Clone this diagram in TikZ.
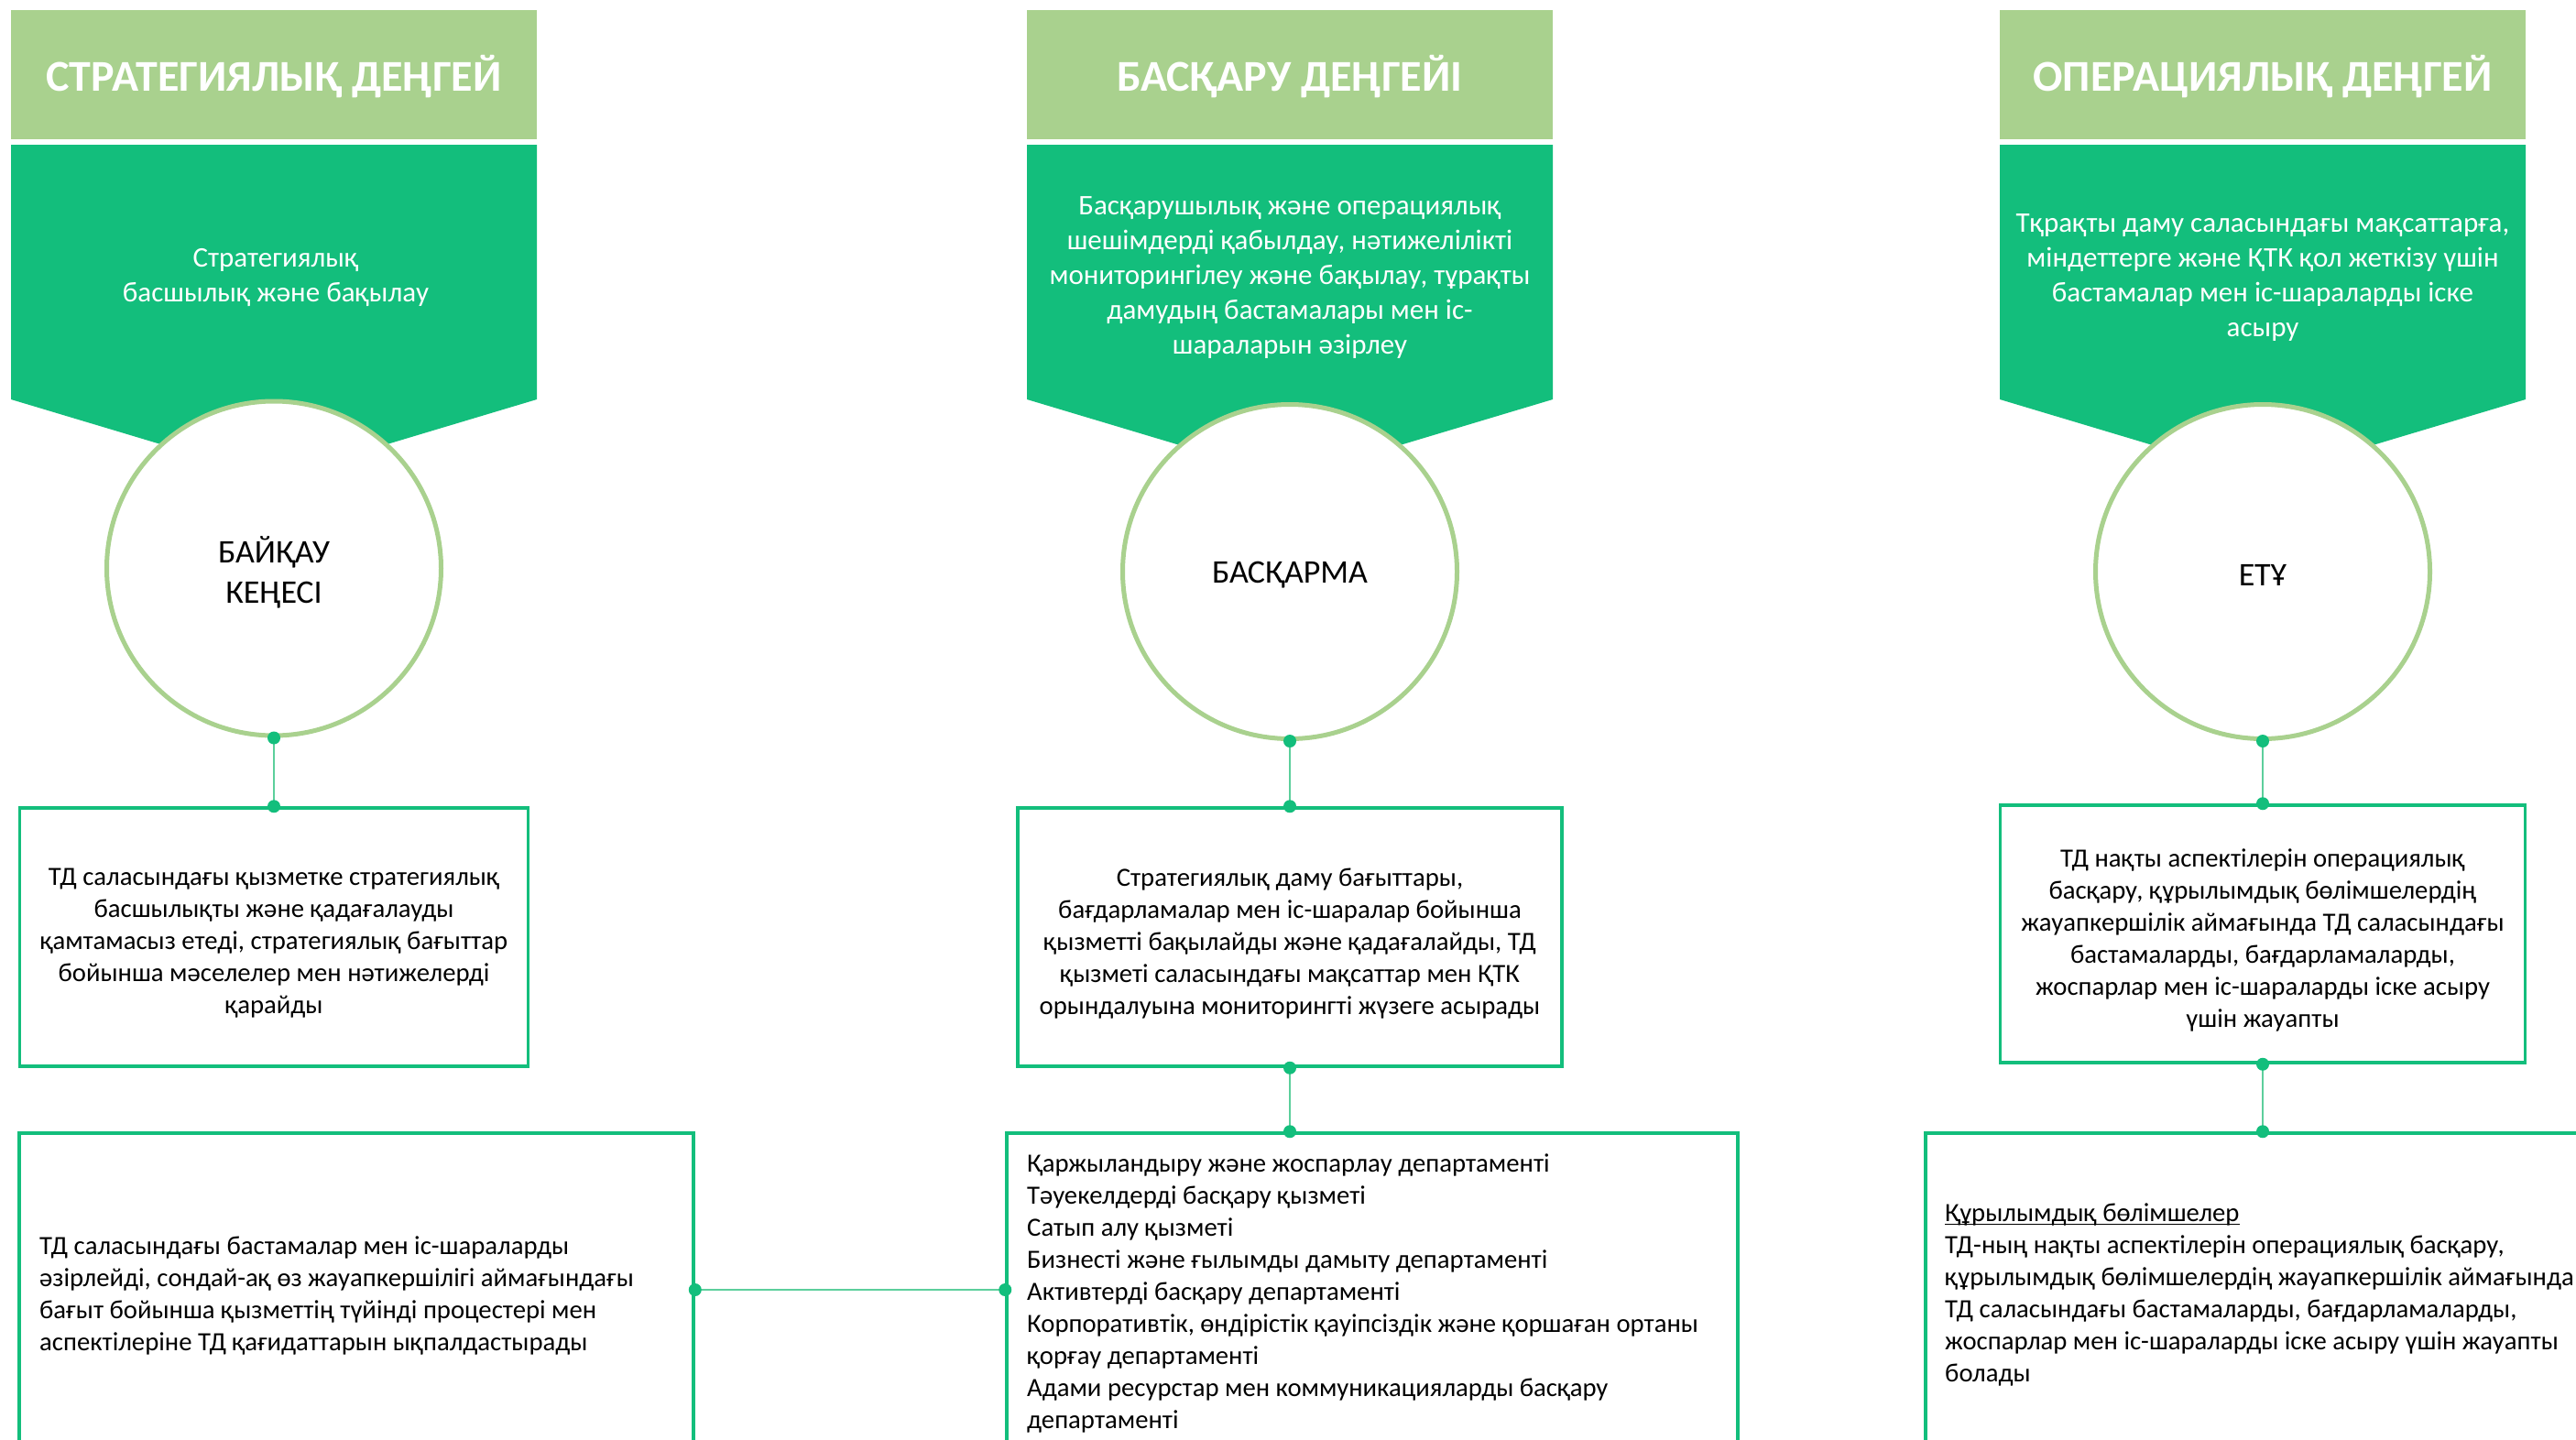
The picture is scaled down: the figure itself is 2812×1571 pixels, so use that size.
\documentclass[tikz,border=0pt]{standalone}
\usepackage{fontspec}
\setmainfont{Carlito}
\definecolor{hdrgreen}{HTML}{A9D18E}
\definecolor{darkgreen}{HTML}{13BE7C}
\definecolor{linegreen}{HTML}{5CCF9C}
\newcommand\myul[1]{\setbox0=\hbox{#1}\rlap{\rule[-3.5pt]{\wd0}{1.6pt}}\box0}
\tikzset{
 hdr/.style={fill=hdrgreen, minimum width=574pt, minimum height=141pt, inner sep=0pt},
 htext/.style={text=white, inner sep=0pt, font=\fontsize{48}{58}\selectfont\bfseries, yshift=-2pt},
 dtext/.style={text=white, align=center, inner sep=0pt, font=\fontsize{31}{38}\selectfont},
 role/.style={circle, draw=hdrgreen, line width=5pt, fill=white, minimum size=365pt, inner sep=0pt},
 ctext/.style={align=center, inner sep=0pt, font=\fontsize{36}{44}\selectfont, yshift=-4pt},
 box/.style={draw=darkgreen, line width=3.5pt, fill=white, inner sep=0pt},
 btext/.style={align=center, inner sep=0pt, font=\fontsize{28.7}{35}\selectfont, yshift=-7pt},
 ltext/.style={align=left, inner sep=0pt, anchor=north west, font=\fontsize{28.7}{35}\selectfont},
 conn/.style={draw=linegreen, line width=2pt},
 dotc/.style={fill=darkgreen}
}
\begin{document}
\begin{tikzpicture}[x=1pt,y=-1pt]
\clip (0,0) rectangle (2812,1571);
\fill[white] (0,0) rectangle (2812,1571);

% headers
\node[hdr] (h1) at (299,81.5) {};
\node[hdr] (h2) at (1408,81.5) {};
\node[hdr] (h3) at (2470,81.5) {};
\node[htext] (h1t) at (h1) {СТРАТЕГИЯЛЫҚ ДЕҢГЕЙ};
\node[htext] (h2t) at (h2) {БАСҚАРУ ДЕҢГЕЙІ};
\node[htext] (h3t) at (h3) {ОПЕРАЦИЯЛЫҚ ДЕҢГЕЙ};

% dark chevron blocks
\fill[darkgreen] (12,158) -- (586,158) -- (586,436) -- (299,522) -- (12,436) -- cycle;
\fill[darkgreen] (1121,158) -- (1695,158) -- (1695,436) -- (1408,522) -- (1121,436) -- cycle;
\fill[darkgreen] (2183,158) -- (2757,158) -- (2757,436) -- (2470,522) -- (2183,436) -- cycle;

\node[dtext] (d1) at (301,303) {Стратегиялық\\басшылық және бақылау};
\node[dtext] (d2) at (1408,303) {Басқарушылық және операциялық\\шешімдерді қабылдау, нәтижелілікті\\мониторингілеу және бақылау, тұрақты\\дамудың бастамалары мен іс-\\шараларын әзірлеу};
\node[dtext] (d3) at (2470,303) {Тқрақты даму саласындағы мақсаттарға,\\міндеттерге және ҚТК қол жеткізу үшін\\бастамалар мен іс-шараларды іске\\асыру};

% circles
\node[role] (c1) at (299,620.5) {};
\node[role] (c2) at (1408,624) {};
\node[role] (c3) at (2470,624) {};
\node[ctext] (c1t) at (c1) {БАЙҚАУ\\КЕҢЕСІ};
\node[ctext] (c2t) at (c2) {БАСҚАРМА};
\node[ctext] (c3t) at (c3) {ЕТҰ};

% boxes
\node[box, minimum width=555pt, minimum height=282pt] (b1) at (299,1023) {};
\node[box, minimum width=594pt, minimum height=282pt] (b2) at (1408,1023) {};
\node[box, minimum width=573pt, minimum height=281pt] (b3) at (2470,1019.5) {};
\node[btext] (t1) at (b1) {ТД саласындағы қызметке стратегиялық\\басшылықты және қадағалауды\\қамтамасыз етеді, стратегиялық бағыттар\\бойынша мәселелер мен нәтижелерді\\қарайды};
\node[btext] (t2) at (b2) {Стратегиялық даму бағыттары,\\бағдарламалар мен іс-шаралар бойынша\\қызметті бақылайды және қадағалайды, ТД\\қызметі саласындағы мақсаттар мен ҚТК\\орындалуына мониторингті жүзеге асырады};
\node[btext] (t3) at (b3) {ТД нақты аспектілерін операциялық\\басқару, құрылымдық бөлімшелердің\\жауапкершілік аймағында ТД саласындағы\\бастамаларды, бағдарламаларды,\\жоспарлар мен іс-шараларды іске асыру\\үшін жауапты};

\node[box, minimum width=736pt, minimum height=342pt] (b4) at (389,1408) {};
\node[box, minimum width=798pt, minimum height=342pt] (b5) at (1498,1408) {};
\node[box, minimum width=768pt, minimum height=342pt] (b6) at (2486,1408) {};

\node[ltext] (t4) at (43,1350) {ТД саласындағы бастамалар мен іс-шараларды\\әзірлейді, сондай-ақ өз жауапкершілігі аймағындағы\\бағыт бойынша қызметтің түйінді процестері мен\\аспектілеріне ТД қағидаттарын ықпалдастырады};
\node[ltext] (t5) at (1121,1260) {Қаржыландыру және жоспарлау департаменті\\Тәуекелдерді басқару қызметі\\Сатып алу қызметі\\Бизнесті және ғылымды дамыту департаменті\\Активтерді басқару департаменті\\Корпоративтік, өндірістік қауіпсіздік және қоршаған ортаны\\қорғау департаменті\\Адами ресурстар мен коммуникацияларды басқару\\департаменті};
\node[ltext] (t6) at (2123,1314) {\myul{Құрылымдық бөлімшелер}\\ТД-ның нақты аспектілерін операциялық басқару,\\құрылымдық бөлімшелердің жауапкершілік аймағында\\ТД саласындағы бастамаларды, бағдарламаларды,\\жоспарлар мен іс-шараларды іске асыру үшін жауапты\\болады};

% connectors
\draw[conn] (c1.south) -- (b1.north);
\fill[dotc] (c1.south) circle (7);
\fill[dotc] (b1.north) circle (7);

\draw[conn] (c2.south) -- (b2.north);
\fill[dotc] (c2.south) circle (7);
\fill[dotc] (b2.north) circle (7);

\draw[conn] (c3.south) -- (b3.north);
\fill[dotc] (c3.south) circle (7);
\fill[dotc] (b3.north) circle (7);

\draw[conn] (b2.south) -- (b2.south |- b5.north);
\fill[dotc] (b2.south) circle (7);
\fill[dotc] (b2.south |- b5.north) circle (7);

\draw[conn] (b3.south) -- (b3.south |- b6.north);
\fill[dotc] (b3.south) circle (7);
\fill[dotc] (b3.south |- b6.north) circle (7);

\draw[conn] (b4.east) -- (b5.west);
\fill[dotc] (b4.east) circle (7);
\fill[dotc] (b5.west) circle (7);
\end{tikzpicture}
\end{document}
